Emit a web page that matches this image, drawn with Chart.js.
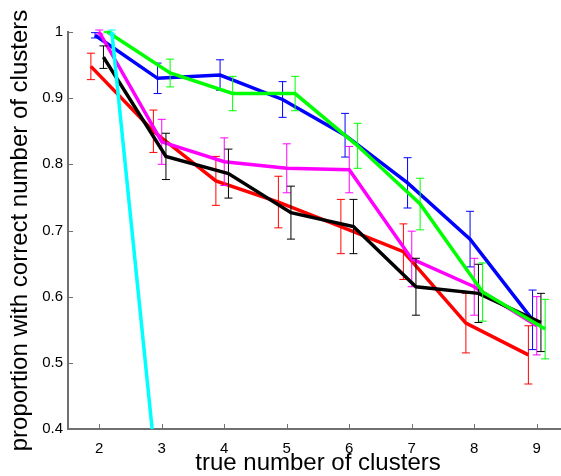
<!DOCTYPE html>
<html lang="en">
<head>
<meta charset="UTF-8">
<title>Correct number of clusters</title>
<script src="https://cdn.jsdelivr.net/npm/chart.js@4.4.0/dist/chart.umd.min.js"></script>
<style>
    body { margin: 0; overflow: hidden; background: #fff; }
    #wrap { width: 568px; height: 476px; }
</style>
</head>
<body>
<div id="wrap"><canvas id="chart" width="568" height="476"></canvas></div>
<script>
// true number of clusters
const clusters = [2, 3, 4, 5, 6, 7, 8, 9];
const xTicks = [2, 3, 4, 5, 6, 7, 8, 9];
const yTicks = [0.4, 0.5, 0.6, 0.7, 0.8, 0.9, 1];

// proportion with correct number of clusters (mean, +/- error)
const redVals = [0.948, 0.850, 0.775, 0.743, 0.706, 0.668, 0.560, 0.512];
const redErr = [0.020, 0.032, 0.037, 0.039, 0.041, 0.042, 0.045, 0.044];
const blueVals = [0.995, 0.930, 0.935, 0.898, 0.844, 0.772, 0.687, 0.565];
const blueErr = [0.004, 0.023, 0.023, 0.027, 0.033, 0.038, 0.042, 0.045];
const magentaVals = [1.0, 0.834, 0.804, 0.794, 0.792, 0.657, 0.615, 0.556];
const magentaErr = [0.003, 0.034, 0.036, 0.037, 0.035, 0.042, 0.043, 0.044];
const blackVals = [0.962, 0.812, 0.786, 0.727, 0.706, 0.615, 0.605, 0.561];
const blackErr = [0.017, 0.035, 0.037, 0.040, 0.041, 0.043, 0.044, 0.044];
const greenVals = [1.0, 0.938, 0.907, 0.907, 0.828, 0.740, 0.607, 0.551];
const greenErr = [0.001, 0.021, 0.026, 0.026, 0.034, 0.039, 0.044, 0.045];
const cyanVals = [1.0, 0.07, null, null, null, null, null, null];
const cyanErr = [0.003, null, null, null, null, null, null, null];

// small horizontal shift per series so the error bars don't overlap
const shift = 0.067;

function series(vals, errs, color, k, order) {
    const pts = [];
    const err = [];
    clusters.forEach((c, i) => {
        if (vals[i] == null) return;
        pts.push({ x: c + k * shift, y: vals[i] });
        err.push(errs[i]);
    });
    return {
        data: pts,
        errors: err,
        borderColor: color,
        borderWidth: 3.5,
        pointRadius: 0,
        fill: false,
        tension: 0,
        clip: { left: 0, top: 4, right: 0, bottom: 0 },
        order: order
    };
}

const axisGray = '#707070';

const errorBars = {
    id: 'errorBars',
    afterDatasetDraw(chart, args) {
        const ds = chart.data.datasets[args.index];
        const { ctx, chartArea, scales: { x, y } } = chart;
        ctx.save();
        ctx.beginPath();
        ctx.rect(chartArea.left, chartArea.top - 4, chartArea.width, chartArea.height + 4);
        ctx.clip();
        ctx.strokeStyle = ds.borderColor;
        ctx.lineWidth = 1;
        ds.data.forEach((pt, i) => {
            if (ds.errors[i] == null) return;
            const px = x.getPixelForValue(pt.x);
            const top = y.getPixelForValue(pt.y + ds.errors[i]);
            const bot = y.getPixelForValue(pt.y - ds.errors[i]);
            ctx.beginPath();
            ctx.moveTo(px, top); ctx.lineTo(px, bot);
            ctx.moveTo(px - 4, top); ctx.lineTo(px + 4, top);
            ctx.moveTo(px - 4, bot); ctx.lineTo(px + 4, bot);
            ctx.stroke();
        });
        ctx.restore();
    },
    afterDraw(chart) {
        // matlab style tick marks pointing into the axes
        const { ctx, chartArea, scales: { x, y } } = chart;
        ctx.save();
        ctx.strokeStyle = axisGray;
        ctx.lineWidth = 1;
        ctx.beginPath();
        x.ticks.forEach(t => {
            const px = Math.round(x.getPixelForValue(t.value)) + 0.5;
            ctx.moveTo(px, chartArea.bottom);
            ctx.lineTo(px, chartArea.bottom - 5);
        });
        y.ticks.forEach(t => {
            const py = Math.round(y.getPixelForValue(t.value)) + 0.5;
            ctx.moveTo(chartArea.left, py);
            ctx.lineTo(chartArea.left + 5, py);
        });
        ctx.stroke();
        ctx.restore();
    }
};

new Chart(document.getElementById('chart'), {
    type: 'line',
    data: {
        datasets: [
            series(redVals, redErr, '#ff0000', -2, 6),
            series(blueVals, blueErr, '#0000ff', -1, 5),
            series(magentaVals, magentaErr, '#ff00ff', 0, 4),
            series(blackVals, blackErr, '#000000', 1, 3),
            series(greenVals, greenErr, '#00ff00', 2, 2),
            series(cyanVals, cyanErr, '#00ffff', 3, 1)
        ]
    },
    options: {
        responsive: false,
        animation: false,
        layout: { padding: { top: 32, left: 0, right: 0, bottom: 0 } },
        plugins: { legend: { display: false }, tooltip: { enabled: false } },
        scales: {
            x: {
                type: 'linear',
                min: 1.5,
                max: 9.5,
                afterBuildTicks: s => { s.ticks = xTicks.map(v => ({ value: v })); },
                afterFit: s => { s.height = 47; },
                grid: { display: false, drawTicks: false },
                border: { display: true, color: axisGray, width: 2 },
                ticks: { color: '#000', font: { family: 'Liberation Sans', size: 15 }, padding: 11 },
                title: {
                    display: true,
                    text: 'true number of clusters',
                    color: '#000',
                    font: { family: 'Liberation Sans', size: 24 },
                    padding: { top: 0, bottom: -2 }
                }
            },
            y: {
                min: 0.4,
                max: 1,
                afterBuildTicks: s => { s.ticks = yTicks.map(v => ({ value: v })); },
                afterFit: s => { s.width = 68; },
                grid: { display: false, drawTicks: false },
                border: { display: true, color: axisGray, width: 2 },
                ticks: {
                    color: '#000',
                    font: { family: 'Liberation Sans', size: 15 },
                    padding: 5,
                    callback: v => v === 1 ? '1' : v.toFixed(1)
                },
                title: {
                    display: true,
                    text: 'proportion with correct number of clusters',
                    color: '#000',
                    font: { family: 'Liberation Sans', size: 24 },
                    padding: { top: 6, bottom: 0 }
                }
            }
        }
    },
    plugins: [errorBars]
});
</script>
</body>
</html>
